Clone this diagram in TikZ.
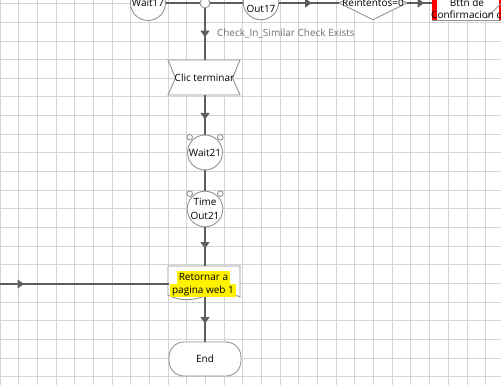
\documentclass[tikz,border=0pt]{standalone}
\usepackage{fontspec}
\setmainfont{Open Sans}
\usetikzlibrary{arrows.meta,shapes.geometric,decorations.markings}
\definecolor{gridc}{HTML}{D4D4D4}
\definecolor{linec}{HTML}{5E5E5E}
\definecolor{shapec}{HTML}{939393}
\definecolor{lblc}{HTML}{707070}
\begin{document}
\begin{tikzpicture}[x=1pt,y=-1pt,
  font=\fontsize{10}{13.3}\selectfont,
  gridline/.style={draw=gridc, line width=1pt},
  conn/.style={draw=linec, line width=1.2pt},
  outline/.style={draw=shapec, line width=0.9pt, fill=white},
  midarr/.style={postaction={decorate,decoration={markings,
      mark=at position #1 with {\arrow{Triangle[length=6.5pt,width=9pt]}}}}},
  alarm/.style={circle, outline, minimum size=35pt, inner sep=0pt, align=center},
  ear/.style={outline},
  hl/.style={fill=yellow, inner xsep=2pt, inner ysep=1.2pt, text height=8pt, text depth=2.6pt}
]
\useasboundingbox (0,0) rectangle (501,385);
\clip (0,0) rectangle (501,385);
\fill[white] (0,0) rectangle (501,385);
% grid
\foreach \i in {0,...,27} \draw[gridline] (18.68*\i,0) -- (18.68*\i,385);
\foreach \j in {0,...,20} \draw[gridline] (0,3.7+18.66*\j) -- (501,3.7+18.66*\j);

% ---- top row ----
\node[alarm] (w17) at (148,3) {Wait17};
\node[circle, outline, minimum size=10pt, inner sep=0pt] (junc) at (205,3) {};
\node[alarm] (o17) at (261,2) {Time\\Out17};
\node[diamond, outline, minimum width=68pt, minimum height=34pt, inner sep=0pt] (dia) at (373,3) {};
\node (diat) at (dia.center) {Reintentos=0};
\node[outline, minimum width=72pt, minimum height=34pt, inner sep=0pt] (bttn) at (468,3) {};
\fill[red] (bttn.north west) rectangle ([xshift=5pt]bttn.south west);
\fill[red] ([xshift=-5pt]bttn.north east) rectangle (bttn.south east);
\coordinate (dg1) at (486,18.5);
\coordinate (dg2) at (501,3.5);
\draw[draw=shapec, line width=0.9pt] (dg1) -- (dg2);
\node[align=center, font=\fontsize{10}{11.5}\selectfont] (bttnt) at (467,9) {Bttn de\\Confirmacion d};

\draw[conn] (w17.east) -- (junc.west);
\draw[conn] (junc.east) -- (o17.west |- junc.east);
\draw[conn, midarr=32.4pt] (o17.east |- dia.west) -- (dia.west);
\draw[conn, midarr=16.7pt] (dia.east) -- (bttn.west);

% ---- Clic terminar ----
\path[outline] (168,60) -- (240,60) -- (232.5,78) -- (240,95) -- (168,95) -- (175.5,78) -- cycle;
\node[minimum width=72pt, minimum height=35pt, inner sep=0pt] (clic) at (204.5,77.5) {Clic terminar};
\draw[conn, midarr=28.7pt] (junc.south) -- (junc.south |- clic.north);
\node[anchor=west, text=lblc] (lbl) at (213.5,33) {Check\_In\_Similar Check Exists};

% ---- alarms ----
\node[alarm] (w21) at (205,152.5) {Wait21};
\node[alarm] (t21) at (205,209) {Time\\Out21};
\foreach \n in {w21,t21} {
  \draw[ear] ([xshift=-15.3pt,yshift=15.3pt]\n.center) circle (2.8pt);
  \draw[ear] ([xshift=15.3pt,yshift=15.3pt]\n.center) circle (2.8pt);
}
\draw[conn, midarr=24.3pt] (clic.south -| w21.north) -- (w21.north);
\draw[conn] (w21.south) -- (t21.north);

% ---- Retornar (document) ----
\path[outline] (168,266) -- (240,266) -- (240,297)
  .. controls (228,291) and (215,292) .. (205,296)
  .. controls (195,300) and (180,302) .. (168,295) -- cycle;
\node[minimum width=72pt, minimum height=31pt, inner sep=0pt] (ret) at (205,281.5) {};
\node[hl] (ret1) at (203.5,277.3) {Retornar a};
\node[hl] (ret2) at (203,290.8) {pagina web 1};
\draw[conn, midarr=21.3pt] (t21.south) -- (ret.north);
\coordinate (lin) at (0,284);
\draw[conn, midarr=24pt] (lin) -- (lin -| ret.west);

% ---- End ----
\node[outline, rounded corners=15pt, minimum width=72pt, minimum height=34pt, inner sep=0pt] (endn) at (205,359) {End};
\draw[conn, midarr=26.3pt] (ret.south) -- (endn.north);
\end{tikzpicture}
\end{document}
